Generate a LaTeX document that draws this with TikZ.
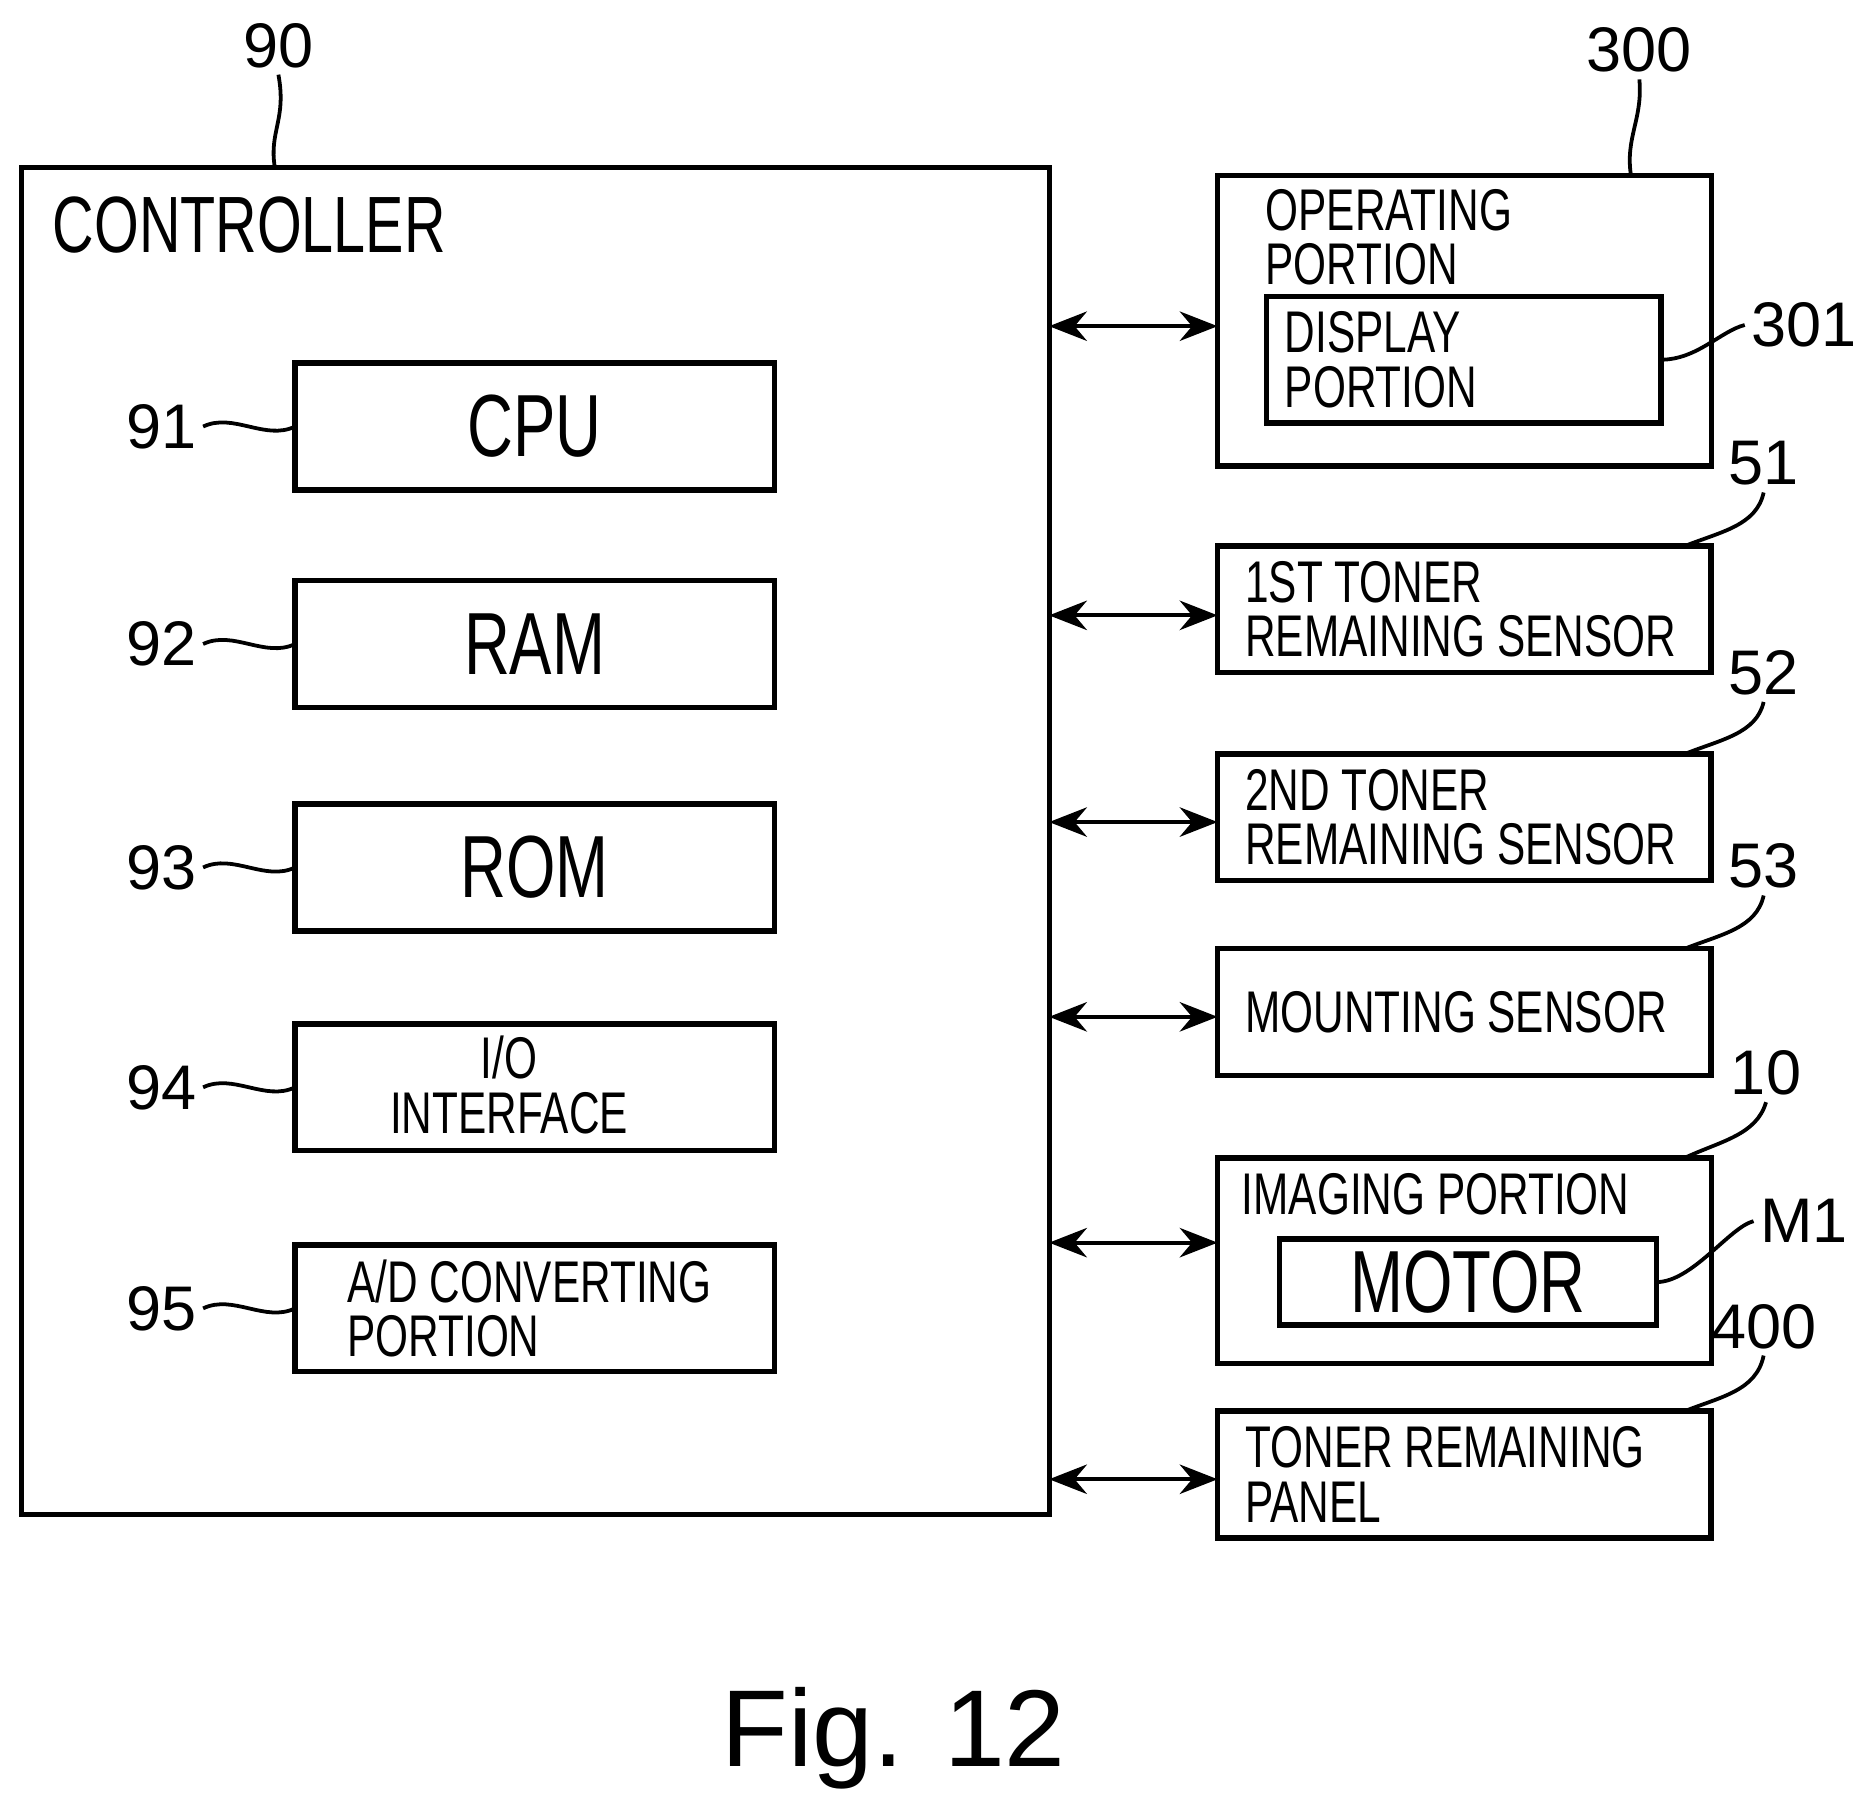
\documentclass[tikz,border=0pt]{standalone}
\usepackage{fontspec}
\usetikzlibrary{arrows.meta}
\setmainfont{Liberation Sans}
\newfontfamily\cf[FakeStretch=0.72]{Liberation Sans}
\begin{document}
\begin{tikzpicture}[x=0.01cm,y=-0.01cm,line width=1.3pt,
 box/.style={draw,rectangle,inner sep=0,outer sep=0},
 txt/.style={font=\cf\fontsize{14}{13}\selectfont,align=left,inner sep=0},
 big/.style={font=\cf\fontsize{21}{24}\selectfont,inner sep=0},
 num/.style={font=\fontsize{15}{18}\selectfont,inner sep=1pt},
 lead/.style={line width=0.9pt},
 arr/.style={<->,>={Stealth[length=9pt,width=7pt]},line width=1pt}]
\useasboundingbox (0,0) rectangle (1555,1503);
% controller
\node[box,minimum width=8.6cm,minimum height=11.27cm,anchor=north west] (ctl) at (18,140) {};
\node[font=\cf\fontsize{19}{22}\selectfont,anchor=west,inner sep=0] (ctlt) at (42,188) {CONTROLLER};
\node[num] (l90) at (233,38) {90};
\coordinate (c90) at (230,140);
\draw[lead] (c90) .. controls (225,110) and (240,100) .. (l90.south);
% inner boxes
\foreach \n/\y in {cpu/357,ram/539,rom/726,io/910,ad/1095}{
 \node[box,minimum width=4.01cm,minimum height=1.06cm] (\n) at (447.5,\y) {};}
\node[big] (tcpu) at (cpu) {CPU};
\node[big] (tram) at (ram) {RAM};
\node[big] (trom) at (rom) {ROM};
\node[txt,align=center] (tio) at (426,908) {I/O\\INTERFACE};
\node[txt] (tad) at (443,1095) {A/D CONVERTING\\PORTION};
\foreach \n/\l in {cpu/91,ram/92,rom/93,io/94,ad/95}{
 \node[num,anchor=east] (l\l) at (170,0|-\n) {\l};
 \draw[lead] (l\l.east) .. controls +(25,-12) and +(-25,12) .. (\n.west);}
% right boxes
\node[box,minimum width=4.13cm,minimum height=2.43cm,anchor=north west] (op) at (1019,147) {};
\node[txt,anchor=north west] (opt) at (1057,156) {OPERATING\\PORTION};
\node[box,minimum width=3.3cm,minimum height=1.06cm,anchor=north west] (disp) at (1060,248) {};
\node[txt,anchor=west] (dispt) at (1073,301) {DISPLAY\\PORTION};
\node[num] (l300) at (1372,42) {300};
\draw[lead] (1365,147) .. controls (1360,115) and (1375,100) .. (l300.south);
\node[num] (l301) at (1510,272) {301};
\draw[lead] (disp.east) .. controls +(30,0) and +(-20,5) .. (l301.west);
\foreach \n/\t/\y/\l/\ly in {s51/{1ST TONER\\REMAINING SENSOR}/510/51/388,
 s52/{2ND TONER\\REMAINING SENSOR}/684/52/563,
 s53/{MOUNTING SENSOR}/847/53/725,
 s400/{TONER REMAINING\\PANEL}/1234/400/1110}{
 \node[box,minimum width=4.13cm,minimum height=1.06cm] (\n) at (1225.5,\y) {};
 \node[txt,anchor=west] (t\n) at (1040,\y) {\t};
 \node[num] (l\n) at (1476,\ly) {\l};
 \draw[lead] (1410,\y-53) .. controls (1440,\y-65) and (1470,\y-70) .. (l\n.south);}
\node[box,minimum width=4.13cm,minimum height=1.72cm,anchor=north west] (img) at (1019,969) {};
\node[txt,anchor=north west] (imgt) at (1037,980) {IMAGING PORTION};
\node[box,minimum width=3.15cm,minimum height=0.72cm,anchor=north west] (mot) at (1071,1037) {};
\node[big] (mott) at (mot) {MOTOR};
\node[num] (l10) at (1478,898) {10};
\draw[lead] (1410,969) .. controls (1440,955) and (1470,950) .. (l10.south);
\node[num] (lm1) at (1510,1022) {M1};
\draw[lead] (mot.east) .. controls +(30,0) and +(-20,5) .. (lm1.west);
% arrows
\foreach \n/\y in {op/273,s51/515,s52/688,s53/851,img/1040,s400/1238}{
 \coordinate (a\n) at (878,\y);
 \coordinate (b\n) at (1019,\y);
 \draw[arr] (a\n) -- (b\n);}
\node[font=\fontsize{26}{30}\selectfont] (fig) at (748,1455) {Fig. 12};
\end{tikzpicture}
\end{document}
